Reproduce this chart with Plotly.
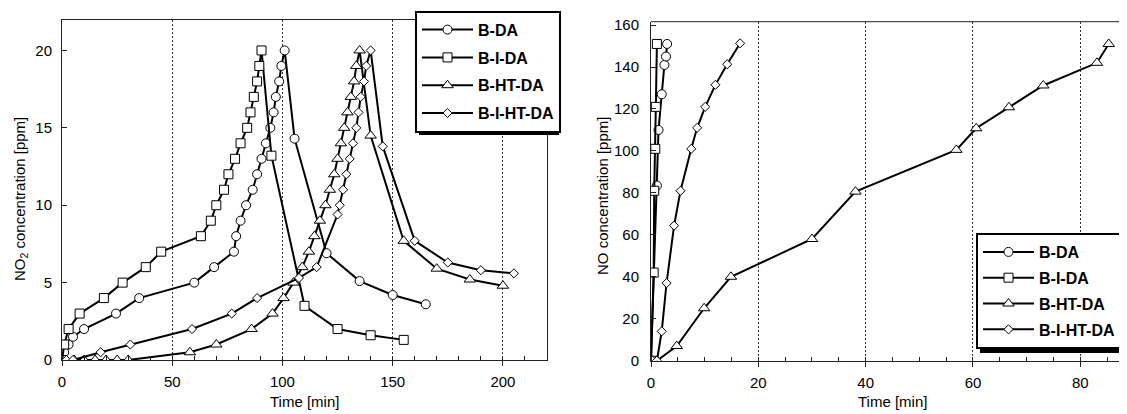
import plotly.graph_objects as go

# The page body adds an 8px margin; the figure is sized so that it fills the window.
OFF = 8
W, H = 1127 - OFF, 414 - OFF

# ---- Left panel: NO2 concentration ----
bda_t = [0, 1, 3, 5, 10, 24.5, 35, 60, 69, 78, 79, 81, 83.5, 86.5, 88.5, 90.5, 92.5, 94.5, 96, 97, 98.5, 99.5, 101, 105.5, 120, 135, 150, 165]
bda_c = [0, 0.5, 1, 1.5, 2, 3, 4, 5, 6, 7, 8, 9, 10, 11, 12, 13, 14, 15, 16, 17, 18, 19, 20, 14.3, 6.9, 5.1, 4.2, 3.6]

bida_t = [0, 1, 3, 8, 19, 27.5, 38, 45, 63, 67.5, 70, 73.5, 75.5, 78.5, 81, 84, 85.5, 87, 88.5, 89.5, 90.5, 95, 110, 125, 140, 155]
bida_c = [0, 1, 2, 3, 4, 5, 6, 7, 8, 9, 10, 11, 12, 13, 14, 15, 16, 17, 18, 19, 20, 13.2, 3.5, 2, 1.6, 1.3]

bhtda_t = [0, 5.5, 10, 15, 20, 25, 30, 58, 70, 86, 95.5, 100.5, 105, 109, 112, 114.5, 117, 119.5, 121.5, 123.5, 125, 126.5, 128, 129.5, 131, 132.5, 133.5, 135, 140, 155, 170, 185, 200]
bhtda_c = [0, 0, 0, 0, 0, 0, 0, 0.5, 1, 2, 3, 4, 5, 6, 7, 8, 9, 10, 11, 12, 13, 14, 15, 16, 17, 18, 19, 20, 14.5, 7.7, 5.9, 5.2, 4.8]

bihtda_t = [0, 2, 5, 17.5, 31, 59, 77, 88.5, 107.5, 115.5, 125, 126, 127.5, 129, 130.5, 132, 133.5, 134.5, 135.5, 137, 138, 140, 145.5, 160, 175, 190, 205]
bihtda_c = [0, 0, 0, 0.5, 1, 2, 3, 4, 5.3, 6, 9.4, 10, 11, 12, 13, 14, 15, 16, 17, 18, 19, 20, 13.8, 7.7, 6.3, 5.8, 5.6]

# ---- Right panel: NO concentration ----
no_bda_t = [0, 1.1, 1.4, 2.0, 2.5, 2.8, 3.0]
no_bda_c = [0, 83.5, 110, 127, 141, 145, 151]

no_bida_t = [0, 0.5, 0.6, 0.8, 0.9, 1.1]
no_bida_c = [0, 42, 81, 101, 121, 151]

no_bhtda_t = [1.1, 4.8, 9.9, 14.9, 30, 38.1, 56.9, 60.6, 66.7, 73.1, 83.1, 85.3]
no_bhtda_c = [0, 7, 25, 40, 58, 80.6, 100.5, 110.8, 120.8, 131.2, 142, 151]

no_bihtda_t = [0.3, 1.1, 2.0, 2.9, 4.3, 5.5, 7.5, 8.6, 10.1, 12.0, 14.2, 16.6]
no_bihtda_c = [0, 0, 14, 37, 64.4, 81, 101, 111, 121, 131.5, 141.3, 151.3]

names = ["B-DA", "B-I-DA", "B-HT-DA", "B-I-HT-DA"]
symbols = ["circle", "square", "triangle-up", "diamond"]
msizes = [9, 9, 10, 7]

left_series = [(bda_t, bda_c), (bida_t, bida_c), (bhtda_t, bhtda_c), (bihtda_t, bihtda_c)]
right_series = [(no_bda_t, no_bda_c), (no_bida_t, no_bida_c), (no_bhtda_t, no_bhtda_c), (no_bihtda_t, no_bihtda_c)]

FONT = "Liberation Sans, Arial, sans-serif"

fig = go.Figure()
for i, (t, c) in enumerate(left_series):
    fig.add_trace(go.Scatter(
        x=t, y=c, name=names[i], mode="lines+markers", xaxis="x", yaxis="y",
        legend="legend", legendgroup="l%d" % i,
        line=dict(color="black", width=2),
        marker=dict(symbol=symbols[i], size=msizes[i], color="white",
                    line=dict(color="black", width=1)),
    ))
for i, (t, c) in enumerate(right_series):
    fig.add_trace(go.Scatter(
        x=t, y=c, name=names[i], mode="lines+markers", xaxis="x2", yaxis="y2",
        legend="legend2", legendgroup="r%d" % i,
        line=dict(color="black", width=2),
        marker=dict(symbol=symbols[i], size=msizes[i], color="white",
                    line=dict(color="black", width=1)),
    ))

# positions are given in window pixels and converted to paper fractions
def px_x(p):
    return (p - OFF) / W

def px_y(p):
    return 1 - (p - OFF) / H

tickfont = dict(family=FONT, size=15, color="black")
common_x = dict(
    showline=True, linecolor="#222", linewidth=1,
    ticks="outside", ticklen=5, tickcolor="#222",
    showgrid=True, gridcolor="#333", gridwidth=1, griddash="2px,2px",
    zeroline=False, tickfont=tickfont,
)
common_y = dict(
    showline=True, linecolor="#222", linewidth=1,
    ticks="inside", ticklen=5, tickcolor="#222",
    showgrid=False, zeroline=False, tickfont=tickfont,
)

legfont = dict(family=FONT, size=16, weight="bold", color="black")

fig.update_layout(
    width=W, height=H,
    margin=dict(l=0, r=0, t=0, b=0, autoexpand=False),
    paper_bgcolor="white", plot_bgcolor="white",
    font=dict(family=FONT, color="black"),
    xaxis=dict(**common_x, anchor="y", domain=[px_x(62), px_x(547)], range=[0, 220],
               tickvals=[0, 50, 100, 150, 200], mirror=True,
               minor=dict(dtick=10, tick0=0, ticks="inside", ticklen=4, tickcolor="#222", showgrid=False),
               ticklabelstandoff=3),
    yaxis=dict(**common_y, anchor="x", domain=[px_y(360), px_y(19.5)], range=[0, 22],
               tickvals=[0, 5, 10, 15, 20], mirror=True, ticklabelstandoff=6),
    xaxis2=dict(**common_x, anchor="y2", domain=[px_x(651), 1.0], range=[0, 88.7],
                tickvals=[0, 20, 40, 60, 80],
                minor=dict(dtick=5, tick0=0, ticks="inside", ticklen=4, tickcolor="#222", showgrid=False),
                ticklabelstandoff=3),
    yaxis2=dict(**common_y, anchor="x2", domain=[px_y(360.7), px_y(21.7)], range=[0, 161.6],
                tickvals=[0, 20, 40, 60, 80, 100, 120, 140, 160], ticklabelstandoff=8),
    legend=dict(x=px_x(415), y=px_y(10.7), xanchor="left", yanchor="top",
                bgcolor="white", bordercolor="black", borderwidth=2, font=legfont,
                itemwidth=51, tracegroupgap=4, traceorder="grouped"),
    legend2=dict(x=px_x(976), y=px_y(349), xanchor="left", yanchor="bottom",
                 bgcolor="white", bordercolor="black", borderwidth=2, font=legfont,
                 itemwidth=51, tracegroupgap=2, traceorder="grouped"),
    showlegend=True,
)

# legend drop shadows (estimated legend boxes, offset down-right)
for (lx0, ly0, lx1, ly1) in [(415, 10.7, 555, 131), (976, 235, 1116, 349)]:
    fig.add_shape(type="rect", xref="paper", yref="paper",
                  x0=px_x(lx0 + 4), x1=px_x(lx1 + 4), y0=px_y(ly1 + 4), y1=px_y(ly0 + 4),
                  fillcolor="black", line=dict(width=0), layer="above")

# right panel top border
fig.add_shape(type="line", xref="paper", yref="paper",
              x0=px_x(651), x1=1.0, y0=px_y(21.7), y1=px_y(21.7),
              line=dict(color="#222", width=1), layer="above")

# axis titles
titlefont = dict(family=FONT, size=15, color="black")
fig.add_annotation(text="Time [min]", xref="paper", yref="paper", x=px_x(304.5), y=px_y(401.5),
                   showarrow=False, font=titlefont, xanchor="center", yanchor="middle")
fig.add_annotation(text="Time [min]", xref="paper", yref="paper", x=px_x(892), y=px_y(401.5),
                   showarrow=False, font=titlefont, xanchor="center", yanchor="middle")
fig.add_annotation(text="NO<sub>2</sub> concentration [ppm]", xref="paper", yref="paper",
                   x=px_x(20), y=px_y(199), textangle=-90,
                   showarrow=False, font=titlefont, xanchor="center", yanchor="middle")
fig.add_annotation(text="NO concentration [ppm]", xref="paper", yref="paper",
                   x=px_x(602), y=px_y(196), textangle=-90,
                   showarrow=False, font=titlefont, xanchor="center", yanchor="middle")

fig.write_html("out.html")
